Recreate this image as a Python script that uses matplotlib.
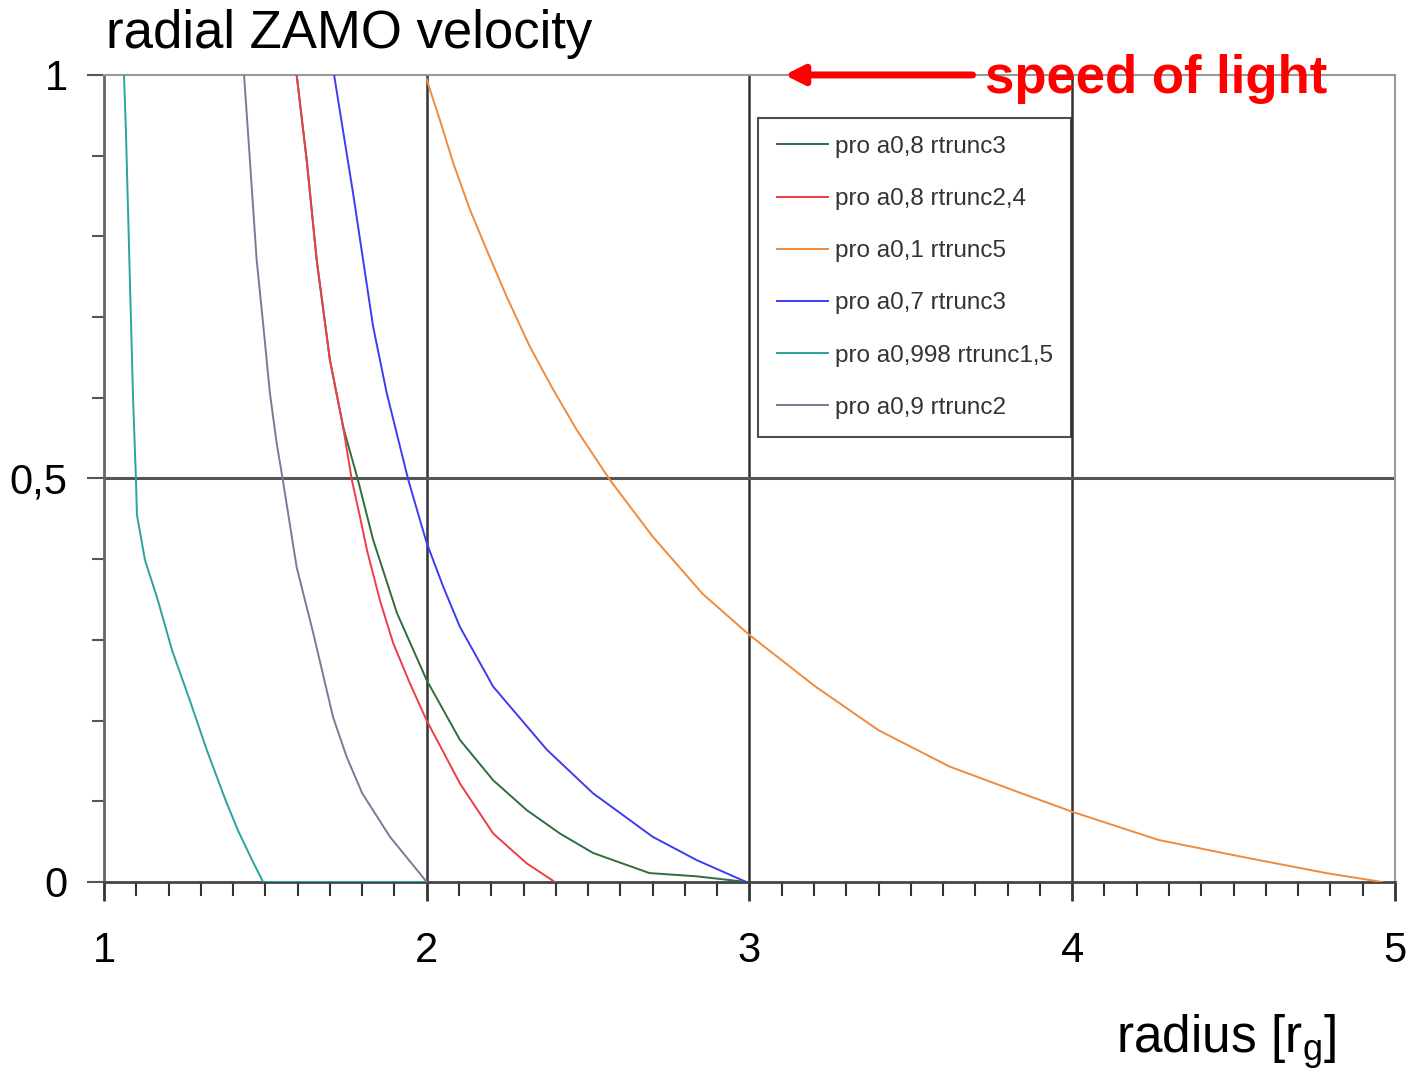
import numpy as np
import matplotlib
matplotlib.use("Agg")
import matplotlib.pyplot as plt
from matplotlib.ticker import MultipleLocator, FixedLocator

plt.rcParams["font.family"] = ["Liberation Sans", "DejaVu Sans"]

# radius [r_g] / radial ZAMO velocity
r_green = [1.597, 1.628, 1.659, 1.70, 1.741, 1.787, 1.834, 1.908, 2.0, 2.103, 2.206,
           2.31, 2.413, 2.515, 2.69, 2.836, 2.99]
v_green = [1.0, 0.895, 0.771, 0.647, 0.564, 0.498, 0.424, 0.333, 0.25, 0.176, 0.126,
           0.089, 0.06, 0.036, 0.011, 0.007, 0.0]

r_red = [1.597, 1.628, 1.659, 1.70, 1.741, 1.768, 1.793, 1.815, 1.855, 1.896, 1.948,
         2.0, 2.103, 2.206, 2.31, 2.397]
v_red = [1.0, 0.895, 0.771, 0.647, 0.564, 0.498, 0.453, 0.411, 0.349, 0.296, 0.246,
         0.2, 0.122, 0.06, 0.023, 0.0]

r_orange = [2.0, 2.005, 2.041, 2.082, 2.134, 2.186, 2.248, 2.32, 2.392, 2.465, 2.568,
            2.70, 2.855, 3.0, 3.205, 3.40, 3.62, 3.815, 4.0, 4.268, 4.528, 4.787, 4.96]
v_orange = [0.995, 0.988, 0.944, 0.891, 0.833, 0.783, 0.725, 0.663, 0.61, 0.56, 0.498,
            0.428, 0.357, 0.306, 0.242, 0.188, 0.143, 0.114, 0.087, 0.052, 0.031, 0.011, 0.0]

r_blue = [1.713, 1.772, 1.834, 1.876, 1.943, 2.0, 2.051, 2.103, 2.206, 2.372, 2.515,
          2.70, 2.837, 2.99]
v_blue = [1.0, 0.853, 0.688, 0.606, 0.498, 0.42, 0.366, 0.316, 0.242, 0.164, 0.11,
          0.056, 0.027, 0.0]

r_teal = [1.062, 1.068, 1.08, 1.09, 1.099, 1.102, 1.127, 1.167, 1.211, 1.266, 1.319,
          1.378, 1.415, 1.459, 1.493, 2.0]
v_teal = [1.0, 0.93, 0.75, 0.6, 0.5, 0.455, 0.399, 0.349, 0.287, 0.225, 0.163,
          0.1, 0.064, 0.027, 0.0, 0.0]

r_gray = [1.434, 1.452, 1.473, 1.494, 1.514, 1.535, 1.555, 1.597, 1.648, 1.71, 1.752,
          1.80, 1.886, 2.0]
v_gray = [1.0, 0.895, 0.771, 0.688, 0.606, 0.544, 0.496, 0.39, 0.309, 0.204, 0.155,
          0.11, 0.056, 0.0]

labels = ["pro a0,8 rtrunc3", "pro a0,8 rtrunc2,4", "pro a0,1 rtrunc5",
          "pro a0,7 rtrunc3", "pro a0,998 rtrunc1,5", "pro a0,9 rtrunc2"]
colors = ["#2f6e3c", "#f03c46", "#f08a3c", "#3c3cf0", "#2aa3a0", "#7a7a96"]

fig = plt.figure(figsize=(14.09, 10.77), dpi=100)
ax = fig.add_axes([0.0738, 0.1811, 0.9162, 0.7493])

series = [(r_green, v_green), (r_red, v_red), (r_orange, v_orange),
          (r_blue, v_blue), (r_teal, v_teal), (r_gray, v_gray)]
for (r, v), c, lab in zip(series, colors, labels):
    ax.plot(r, v, color=c, lw=1.4, label=lab, zorder=3)

ax.set_xlim(1, 5)
ax.set_ylim(0, 1)

# grid lines like the original chart
for xv in [2, 3, 4]:
    ax.axvline(xv, color="#333333", lw=1.8, zorder=2)
ax.axhline(0.5, color="#555555", lw=2.2, zorder=2)

for side in ["top", "right"]:
    ax.spines[side].set_color("#999999")
    ax.spines[side].set_linewidth(1.5)
ax.spines["left"].set_color("#666666")
ax.spines["left"].set_linewidth(2)
ax.spines["bottom"].set_color("#444444")
ax.spines["bottom"].set_linewidth(2)

ax.xaxis.set_major_locator(FixedLocator([1, 2, 3, 4, 5]))
ax.xaxis.set_minor_locator(MultipleLocator(0.1))
ax.yaxis.set_major_locator(FixedLocator([0, 0.5, 1]))
ax.yaxis.set_minor_locator(MultipleLocator(0.1))
ax.set_yticklabels(["0", "0,5", "1"])
ax.tick_params(axis="x", which="major", direction="out", length=14, width=2,
               color="#333333", labelsize=30, pad=21)
ax.tick_params(axis="x", which="minor", direction="out", length=10, width=1.5,
               color="#333333")
ax.tick_params(axis="y", which="major", direction="out", length=12, width=1.5,
               color="#555555", labelsize=30, pad=14)
ax.tick_params(axis="y", which="minor", direction="out", length=9, width=1.5,
               color="#555555")

leg = ax.legend(loc="upper left", bbox_to_anchor=(0.507, 0.947), fontsize=17.5,
                frameon=True, fancybox=False, edgecolor="#222222",
                handlelength=2.1, labelspacing=1.24, borderpad=0.75,
                handletextpad=0.3, borderaxespad=0)
leg.get_frame().set_linewidth(1.5)
for t in leg.get_texts():
    t.set_color("#333333")

fig.text(0.075, 0.968, "radial ZAMO velocity", fontsize=38, ha="left", va="center")
fig.text(0.948, 0.033, r"radius [r$_\mathregular{g}$]", fontsize=37, ha="right", va="center")

ax.annotate("", xy=(3.1, 1.0), xycoords="data", xytext=(3.7, 1.0),
            arrowprops=dict(arrowstyle="-|>", color="red", lw=5, mutation_scale=28),
            annotation_clip=False)
ax.text(3.73, 0.995, "speed of light", color="red", fontsize=38, fontweight="bold",
        ha="left", va="center", clip_on=False)

fig.savefig("out.png", dpi=100)
